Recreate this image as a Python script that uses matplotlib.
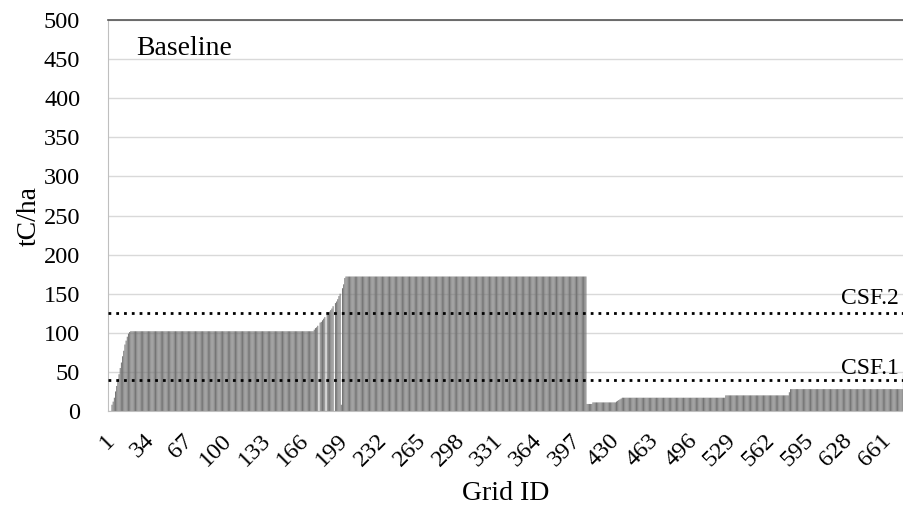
import numpy as np
import matplotlib
matplotlib.use("Agg")
import matplotlib.pyplot as plt
import matplotlib.transforms as mtransforms

plt.rcParams['font.family'] = ['Liberation Serif', 'DejaVu Serif']

# carbon stock per grid cell (tC/ha)
ramp_start = [8, 12, 17, 25, 32, 40, 47, 55, 62, 70, 77, 85, 90, 95, 99, 101]   # grid 1-16
ramp_mid = [102, 104, 106, 107, 109, 0, 113, 114, 116, 118, 120, 0, 123, 124,
            127, 129, 131, 134, 0, 138, 140, 143, 147, 150, 8, 157, 162, 170]   # grid 172-199
ramp_low = [12, 13, 14, 15, 16]                                                 # grid 430-434
# (value, number of grid cells) runs for the flat parts
runs_a = [(102, 155)]
runs_b = [(172, 205), (9, 5), (11, 20)]
runs_c = [(17, 88), (20, 54), (24, 1), (28, 96), (47, 1)]

csf_levels = [40, 125]
csf_names = ['CSF.1', 'CSF.2']
csf_text_y = [47, 137]

def expand(runs):
    return [v for v, n in runs for _ in range(n)]

values = np.array(ramp_start + expand(runs_a) + ramp_mid + expand(runs_b)
                  + ramp_low + expand(runs_c), dtype=float)
grid_id = np.arange(1, len(values) + 1)

fig = plt.figure(figsize=(9.04, 5.15), dpi=100)
ax = fig.add_axes([108/904, 1 - 411/515, 796/904, 391/515])

bars = ax.bar(grid_id, values, width=0.85, color='#747474', linewidth=0, zorder=2)
for b in bars:
    b.set_snap(False)

for lvl in csf_levels:
    ax.axhline(lvl, color='black', linestyle=(0, (1, 1.8)), linewidth=2.0, zorder=3)

trans = mtransforms.blended_transform_factory(ax.transAxes, ax.transData)
for name, ty in zip(csf_names, csf_text_y):
    ax.text(0.993, ty, name, transform=trans, ha='right', va='baseline',
            fontsize=17, zorder=4)

ax.text(0.036, 0.926, 'Baseline', transform=ax.transAxes, ha='left',
        va='center', fontsize=20)

ax.set_ylim(0, 500)
ax.set_yticks(np.arange(0, 501, 50))
ax.set_xlim(-2.4, len(values) + 0.5)
ax.set_xticks(np.arange(1, len(values) + 1, 33))
ax.yaxis.grid(True, color='#d9d9d9', linewidth=1.0, zorder=0)
ax.set_axisbelow(True)

ax.tick_params(axis='both', length=0, labelsize=17.5)
ax.tick_params(axis='y', pad=20)
ax.tick_params(axis='x', pad=19)
for lab in ax.get_xticklabels():
    lab.set_rotation(45)
    lab.set_ha('right')
    lab.set_va('center')
    lab.set_rotation_mode('anchor')

ax.spines['right'].set_visible(False)
ax.spines['top'].set_color('#555555')
ax.spines['top'].set_linewidth(1.2)
ax.spines['left'].set_color('#bfbfbf')
ax.spines['bottom'].set_color('#bfbfbf')

ax.set_xlabel('Grid ID', fontsize=20)
ax.xaxis.label.set_va('center')
ax.xaxis.set_label_coords(0.5, -(494 - 411) / 391)
ax.set_ylabel('tC/ha', fontsize=20)
ax.yaxis.label.set_va('center')
ax.yaxis.set_label_coords(-(108 - 29) / 796, 0.5)

fig.savefig('out.png', dpi=100)
